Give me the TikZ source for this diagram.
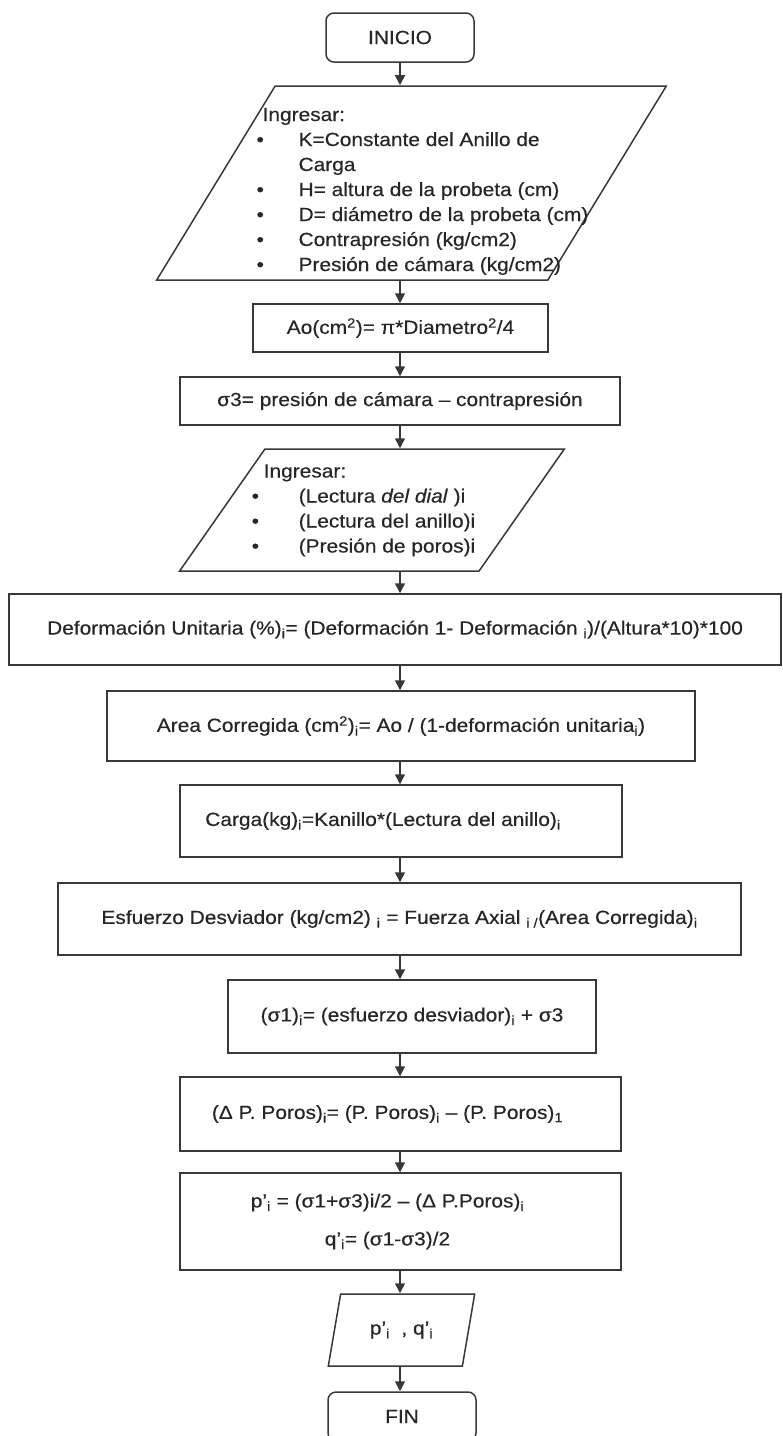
\documentclass[tikz,border=0pt]{standalone}
\usepackage{fontspec}
\setmainfont{Liberation Sans}[FakeStretch=1.1, FakeBold=0.4]
\usetikzlibrary{arrows.meta,shapes.geometric}
\definecolor{ink}{HTML}{262626}
\definecolor{edge}{HTML}{383838}
\tikzset{
  term/.style = {draw=edge, line width=1.5pt, rounded corners=8pt,
                 minimum width=148pt, minimum height=49pt, inner sep=0pt},
  proc/.style = {draw=edge, line width=1.5pt, inner sep=0pt, align=center},
  io/.style   = {draw=edge, line width=1.5pt, trapezium, trapezium stretches=true,
                 inner xsep=0pt, inner ysep=0pt},
  ar/.style   = {-{Triangle[length=10pt,width=10pt]}, draw=edge, line width=1.5pt},
}

\begin{document}
\begin{tikzpicture}[x=1pt, y=-1pt, font=\fontsize{19}{25}\selectfont, text=ink]
\useasboundingbox (0,0) rectangle (783,1436);
\coordinate (axis) at (400,0);

\node[term] (ini) at (400,37.5) {INICIO};

\node[io, trapezium left angle=62, trapezium right angle=118, inner xsep=-60pt,
      minimum width=513pt, minimum height=194pt] (in1) at (411.5,183)
  {\begin{tabular}{@{\hspace{22pt}}p{42pt}@{}l@{}}
   \multicolumn{2}{@{\hspace{28pt}}l@{}}{\rule{0pt}{33.5pt}Ingresar:}\\
   • & K=Constante del Anillo de\\
     & Carga\\
   • & H= altura de la probeta (cm)\\
   • & D= diámetro de la probeta (cm)\\
   • & Contrapresión (kg/cm2)\\
   • & Presión de cámara (kg/cm2)
   \end{tabular}};

\node[proc, minimum width=295pt, minimum height=48pt] (ao) at (400.5,328)
  {Ao(cm\textsuperscript{2})= π*Diametro\textsuperscript{2}/4};

\node[proc, minimum width=440pt, minimum height=48pt] (s3) at (400,401)
  {σ3= presión de cámara – contrapresión};

\node[io, trapezium left angle=57.4, trapezium right angle=122.6, inner xsep=-40pt,
      minimum width=385pt, minimum height=122pt] (in2) at (372,510)
  {\begin{tabular}{@{}p{47pt}@{}l@{\hspace{17pt}}}
   \multicolumn{2}{@{\hspace{12pt}}l@{\hspace{17pt}}}{Ingresar:}\\
   • & (Lectura \textit{del dial} )i\\
   • & (Lectura del anillo)i\\
   • & (Presión de poros)i
   \end{tabular}};

\node[proc, minimum width=772pt, minimum height=71pt] (def) at (395,629.5)
  {Deformación Unitaria (\%)\textsubscript{i}= (Deformación 1- Deformación \textsubscript{i})/(Altura*10)*100};

\node[proc, minimum width=588pt, minimum height=70pt] (area) at (401,726)
  {Area Corregida (cm\textsuperscript{2})\textsubscript{i}= Ao / (1-deformación unitaria\textsubscript{i})};

\node[proc, minimum width=442pt, minimum height=72pt] (carga) at (401,821)
  {Carga(kg)\textsubscript{i}=Kanillo*(Lectura del anillo)\textsubscript{i}\hspace*{36pt}};

\node[proc, minimum width=683pt, minimum height=72pt] (esf) at (399.5,919)
  {Esfuerzo Desviador (kg/cm2) \textsubscript{i} = Fuerza Axial \textsubscript{i /}(Area Corregida)\textsubscript{i}};

\node[proc, minimum width=368pt, minimum height=73pt] (s1) at (412,1016.5)
  {(σ1)\textsubscript{i}= (esfuerzo desviador)\textsubscript{i} + σ3};

\node[proc, minimum width=441pt, minimum height=74pt] (dp) at (400.5,1114)
  {(Δ P. Poros)\textsubscript{i}= (P. Poros)\textsubscript{i} – (P. Poros)\textsubscript{1}\hspace*{26pt}};

\node[proc, minimum width=441pt, minimum height=97pt] (pq) at (400.5,1221.5)
  {p’\textsubscript{i} = (σ1+σ3)i/2 – (Δ P.Poros)\textsubscript{i}\hspace*{26pt}\\[13pt]
   q’\textsubscript{i}= (σ1-σ3)/2\hspace*{26pt}};

\node[io, trapezium left angle=69.4, trapezium right angle=110.6,
      minimum width=147pt, minimum height=72pt] (out) at (401.5,1330)
  {p’\textsubscript{i}~~, q’\textsubscript{i}};

\node[term] (fin) at (402,1416.5) {FIN};

\draw[ar] (ini.south -| axis) -- (in1.north -| axis);
\draw[ar] (in1.south -| axis) -- (ao.north -| axis);
\draw[ar] (ao.south -| axis) -- (s3.north -| axis);
\draw[ar] (s3.south -| axis) -- (in2.north -| axis);
\draw[ar] (in2.south -| axis) -- (def.north -| axis);
\draw[ar] (def.south -| axis) -- (area.north -| axis);
\draw[ar] (area.south -| axis) -- (carga.north -| axis);
\draw[ar] (carga.south -| axis) -- (esf.north -| axis);
\draw[ar] (esf.south -| axis) -- (s1.north -| axis);
\draw[ar] (s1.south -| axis) -- (dp.north -| axis);
\draw[ar] (dp.south -| axis) -- (pq.north -| axis);
\draw[ar] (pq.south -| axis) -- (out.north -| axis);
\draw[ar] (out.south -| axis) -- (fin.north -| axis);
\end{tikzpicture}
\end{document}
